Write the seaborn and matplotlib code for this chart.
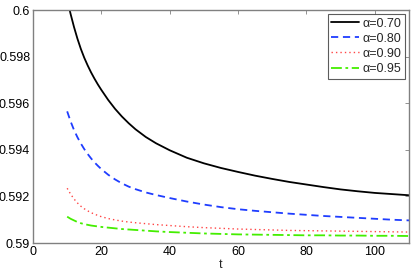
import numpy as np
import pandas as pd
import matplotlib
matplotlib.use("Agg")
import matplotlib.pyplot as plt
import seaborn as sns

t = [10, 11, 12, 13, 14, 15, 16, 17, 18, 19, 20, 22, 24, 26, 28, 30, 33, 36, 40,
     45, 50, 55, 60, 65, 70, 75, 80, 85, 90, 95, 100, 105, 110]

y_070 = [0.60045, 0.59983, 0.59927, 0.59877, 0.59833, 0.59795, 0.59762, 0.59732, 0.59705,
         0.59680, 0.59657, 0.59614, 0.59576, 0.59543, 0.59514, 0.59488, 0.59455, 0.59428,
         0.59398, 0.59366, 0.59342, 0.59322, 0.59305, 0.59289, 0.59275, 0.59262, 0.59251,
         0.59240, 0.59230, 0.59222, 0.59215, 0.59210, 0.59205]
y_080 = [0.59565, 0.59522, 0.59485, 0.59454, 0.59427, 0.59403, 0.59382, 0.59363, 0.59346,
         0.59331, 0.59317, 0.59293, 0.59273, 0.59256, 0.59242, 0.59231, 0.59217, 0.59206,
         0.59193, 0.59178, 0.59165, 0.59154, 0.59145, 0.59138, 0.59132, 0.59126, 0.59121,
         0.59116, 0.59112, 0.59108, 0.59104, 0.59100, 0.59097]
y_090 = [0.59235, 0.59210, 0.59189, 0.59172, 0.59158, 0.59147, 0.59138, 0.59130, 0.59124,
         0.59118, 0.59113, 0.59105, 0.59099, 0.59094, 0.59090, 0.59087, 0.59083, 0.59079,
         0.59075, 0.59070, 0.59066, 0.59063, 0.59060, 0.59058, 0.59056, 0.59054, 0.59053,
         0.59052, 0.59051, 0.59050, 0.59049, 0.59048, 0.59047]
y_095 = [0.59113, 0.59104, 0.59097, 0.59090, 0.59085, 0.59081, 0.59078, 0.59075, 0.59073,
         0.59071, 0.59069, 0.59066, 0.59063, 0.59060, 0.59058, 0.59056, 0.59053, 0.59050,
         0.59047, 0.59044, 0.59041, 0.59039, 0.59037, 0.59036, 0.59035, 0.59034, 0.59033,
         0.59033, 0.59032, 0.59032, 0.59031, 0.59031, 0.59030]

labels = ["α=0.70", "α=0.80", "α=0.90", "α=0.95"]
colors = ["black", "#1f3dff", "#ff4545", "#44ee00"]
styles = ["-", (0, (4, 2.6)), (0, (1, 2.2)), (0, (6, 2, 1.5, 2))]
widths = [1.3, 1.3, 1.0, 1.3]

x_ticks = [0, 20, 40, 60, 80, 100]
y_ticks = [0.59, 0.592, 0.594, 0.596, 0.598, 0.6]
y_tick_labels = ["0.59", "0.592", "0.594", "0.596", "0.598", "0.6"]

sns.set_style("white")
plt.rcParams["font.family"] = ["Liberation Sans", "DejaVu Sans"]

fig = plt.figure(figsize=(4.15, 2.74), dpi=100)
ax = fig.add_axes([0.0795, 0.1131, 0.906, 0.8504])

for ys, lab, c, ls, lw in zip([y_070, y_080, y_090, y_095], labels, colors, styles, widths):
    df = pd.DataFrame({"t": t, "y": ys})
    sns.lineplot(data=df, x="t", y="y", ax=ax, color=c, linestyle=ls, linewidth=lw, label=lab)

ax.set_xlim(0, 110)
ax.set_ylim(0.59, 0.6)
ax.set_xticks(x_ticks)
ax.set_xticklabels([str(v) for v in x_ticks])
ax.set_yticks(y_ticks)
ax.set_yticklabels(y_tick_labels)
ax.set_xlabel("t", fontsize=9, labelpad=1)
ax.set_ylabel("")
ax.tick_params(direction="in", length=3, width=0.6, colors="#808080", labelcolor="black",
               labelsize=9, top=True, right=True, pad=2)
for s in ax.spines.values():
    s.set_color("#808080")
    s.set_linewidth(1.0)

leg = ax.legend(loc="upper right", fontsize=9, frameon=True, fancybox=False,
                handlelength=2.2, handletextpad=0.3, borderpad=0.3, labelspacing=0.25,
                borderaxespad=0.3)
leg.get_frame().set_edgecolor("#333333")
leg.get_frame().set_linewidth(0.8)

fig.savefig("out.png", dpi=100)
